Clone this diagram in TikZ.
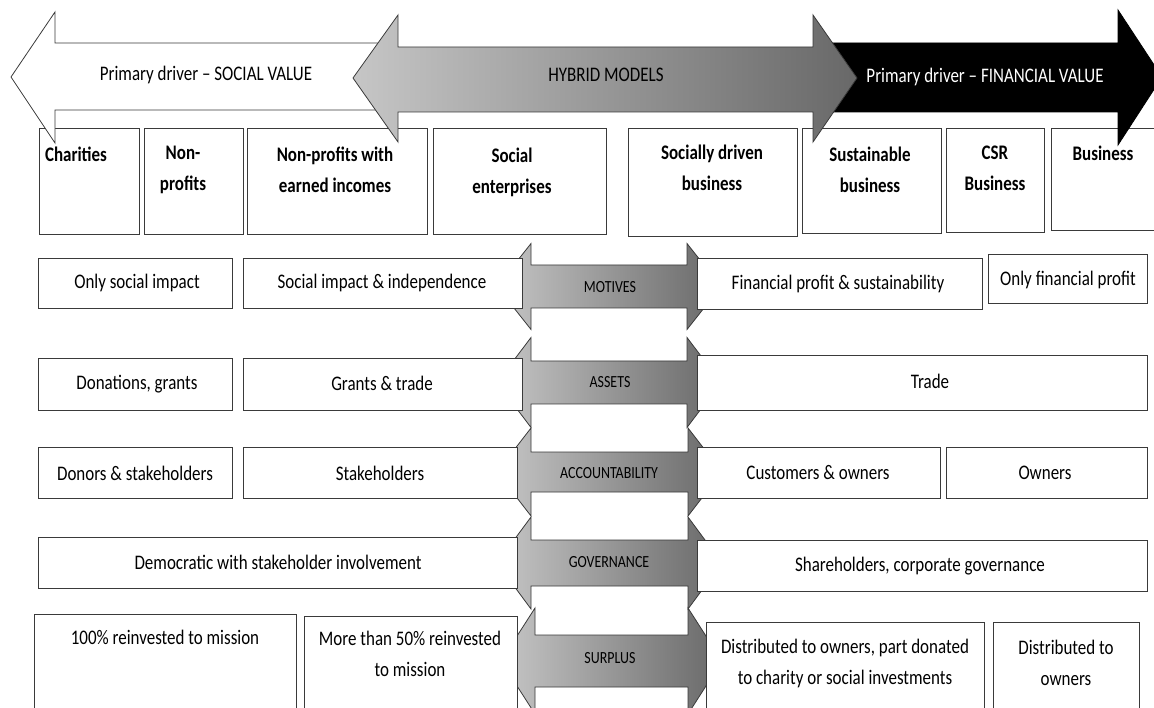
\documentclass[tikz,border=0pt]{standalone}
\usepackage{fontspec}
\setmainfont[FakeStretch=0.82]{Carlito}
\definecolor{gl}{HTML}{C6C6C6}
\definecolor{gd}{HTML}{686868}
\definecolor{ln}{HTML}{3A3A3A}
\newcommand\midarr[5]{%
  \path[arr, left color=gl, right color=gd]
    ({#4-34},{#1}) -- (#4,{#1-#3}) -- (#4,{#1-#2}) -- (#5,{#1-#2}) -- (#5,{#1-#3})
    -- ({#5+34},{#1}) -- (#5,{#1+#3}) -- (#5,{#1+#2}) -- (#4,{#1+#2}) -- (#4,{#1+#3}) -- cycle;}
\begin{document}
\begin{tikzpicture}[x=1pt,y=-1pt,
  boxst/.style={draw=ln, line width=0.9pt, fill=white},
  arr/.style={draw=ln, line width=0.8pt},
  txt/.style={font=\fontsize{20.7}{31}\selectfont, inner sep=0pt, align=center, anchor=center},
  hdr/.style={txt, font=\fontsize{20.7}{31}\selectfont\bfseries},
  lab/.style={font=\fontsize{17}{20}\selectfont, inner sep=0pt, anchor=center}]
\useasboundingbox (0,0) rectangle (1154,708);
\clip (0,0) rectangle (1154,708);

% header boxes
\draw[boxst] (39,128) rectangle (139,234);
\draw[boxst] (144,128) rectangle (243,234);
\draw[boxst] (247,128) rectangle (427,234);
\draw[boxst] (433,128) rectangle (606,234);
\draw[boxst] (628,128) rectangle (797,236);
\draw[boxst] (802,128) rectangle (941,233);
\draw[boxst] (946,128) rectangle (1044,232);
\draw[boxst] (1051,128) rectangle (1160,230);

% top arrows
\path[arr, fill=white] (11,77) -- (55,12) -- (55,43) -- (395,43) -- (395,110) -- (55,110) -- (55,143) -- cycle;
\path[arr, draw=black, fill=black] (830,43) -- (1118,43) -- (1118,10) -- (1162,77) -- (1118,145) -- (1118,112) -- (830,112) -- cycle;
\path[arr, left color=gl, right color=gd] (353,78) -- (398,15) -- (398,47) -- (813,47) -- (813,15) -- (857,78) -- (813,142) -- (813,112) -- (398,112) -- (398,142) -- cycle;

\node[txt] (social) at (206,75) {Primary driver – SOCIAL VALUE};
\node[txt] (hybrid) at (606,75) {HYBRID MODELS};
\node[txt, text=white] (financial) at (985,77) {Primary driver – FINANCIAL VALUE};

% header labels
\node[hdr] (charities) at (76,154) {Charities};
\node[hdr] (nonprofits) at (183,170) {Non-\\profits};
\node[hdr] (npearned) at (335,170) {Non-profits with\\earned incomes};
\node[hdr] (socent) at (512,172) {Social\\enterprises};
\node[hdr] (socdriven) at (712,168) {Socially driven\\business};
\node[hdr] (sustain) at (870,170) {Sustainable\\business};
\node[hdr] (csr) at (995,168) {CSR\\Business};
\node[hdr] (business) at (1103,153) {Business};

% middle double arrows
\midarr{286.5}{21.5}{43}{531}{687}
\midarr{382.5}{21.5}{45}{531}{687}
\midarr{472}{20}{44}{531}{688}
\midarr{563}{23}{46}{531}{688}
\midarr{661}{26}{53}{535}{688}

% row: motives
\draw[boxst] (38,258) rectangle (232,308);
\draw[boxst] (243,258) rectangle (522,308);
\draw[boxst] (697,258) rectangle (982,309);
\draw[boxst] (988,254) rectangle (1147,303);
\node[txt] (m1) at (137,283) {Only social impact};
\node[txt] (m2) at (382,283) {Social impact \& independence};
\node[lab] (motives) at (610,287) {MOTIVES};
\node[txt] (m3) at (838,284) {Financial profit \& sustainability};
\node[txt] (m4) at (1068,280) {Only financial profit};

% row: assets
\draw[boxst] (38,358) rectangle (232,410);
\draw[boxst] (243,358) rectangle (522,410);
\draw[boxst] (697,355) rectangle (1147,410);
\node[txt] (a1) at (137,384) {Donations, grants};
\node[txt] (a2) at (382,383) {Grants \& trade};
\node[lab] (assets) at (610,382) {ASSETS};
\node[txt] (a3) at (930,381) {Trade};

% row: accountability
\draw[boxst] (38,447) rectangle (232,498);
\draw[boxst] (243,447) rectangle (517,498);
\draw[boxst] (697,447) rectangle (940,498);
\draw[boxst] (946,447) rectangle (1147,498);
\node[txt] (c1) at (135,473) {Donors \& stakeholders};
\node[txt] (c2) at (380,473) {Stakeholders};
\node[lab] (account) at (609,473) {ACCOUNTABILITY};
\node[txt] (c3) at (818,473) {Customers \& owners};
\node[txt] (c4) at (1045,473) {Owners};

% row: governance
\draw[boxst] (38,537) rectangle (517,588);
\draw[boxst] (697,540) rectangle (1147,591);
\node[txt] (g1) at (278,562) {Democratic with stakeholder involvement};
\node[lab] (govern) at (609,562) {GOVERNANCE};
\node[txt] (g2) at (920,566) {Shareholders, corporate governance};

% row: surplus
\draw[boxst] (34,614) rectangle (296,730);
\draw[boxst] (304,616) rectangle (517,730);
\draw[boxst] (706,622) rectangle (984,730);
\draw[boxst] (993,622) rectangle (1139,730);
\node[txt] (s1) at (165,637) {100\% reinvested to mission};
\node[txt] (s2) at (410,654) {More than 50\% reinvested\\to mission};
\node[lab] (surplus) at (610,658) {SURPLUS};
\node[txt] (s3) at (845,663) {Distributed to owners, part donated\\to charity or social investments};
\node[txt] (s4) at (1066,663) {Distributed to\\owners};
\end{tikzpicture}
\end{document}
